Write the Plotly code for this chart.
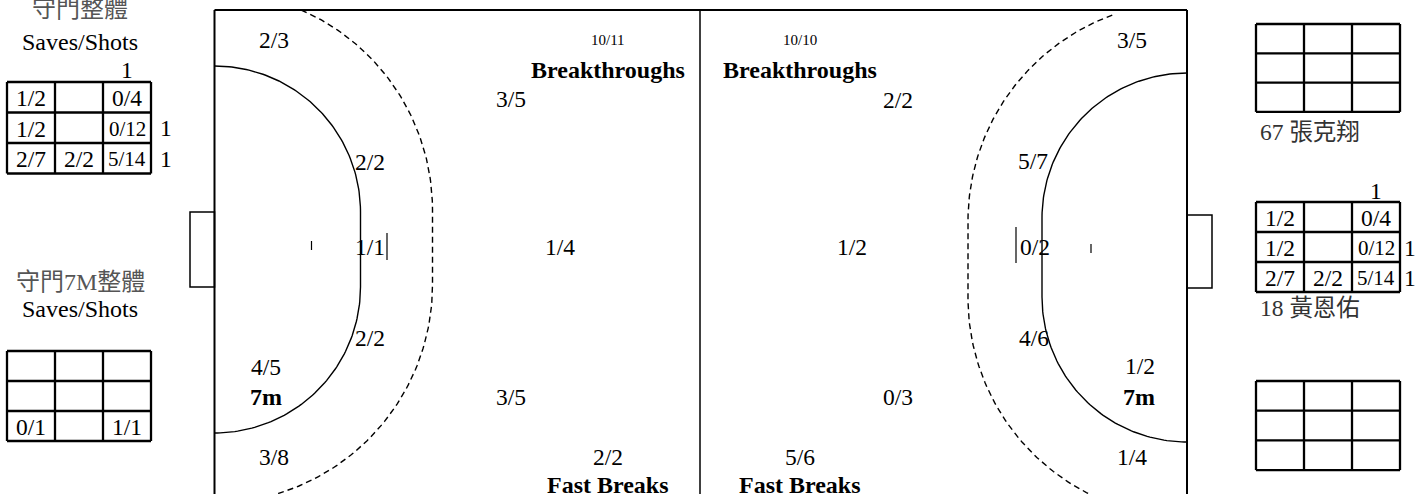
import numpy as np
import plotly.graph_objects as go

# ---------------- data ----------------
gk_titles = ["守門整體", "Saves/Shots", "守門7M整體", "Saves/Shots"]
gk_overall = [["1/2", "", "0/4"], ["1/2", "", "0/12"], ["2/7", "2/2", "5/14"]]
gk_overall_marks = ["1", "1", "1"]          # above col 3, right of row 2, right of row 3
gk_7m = [["", "", ""], ["", "", ""], ["0/1", "", "1/1"]]

player_names = ["67 張克翔", "18 黃恩佑"]
player_67 = [["", "", ""], ["", "", ""], ["", "", ""]]
player_18 = [["1/2", "", "0/4"], ["1/2", "", "0/12"], ["2/7", "2/2", "5/14"]]
player_18_marks = ["1", "1", "1"]
player_other = [["", "", ""], ["", "", ""], ["", "", ""]]

left_zone_labels = ["2/3", "3/5", "2/2", "1/1", "1/4", "2/2", "4/5", "3/5", "3/8", "2/2"]
right_zone_labels = ["3/5", "2/2", "5/7", "1/2", "0/2", "4/6", "1/2", "0/3", "5/6", "1/4"]
breakthrough_counts = ["10/11", "10/10"]
section_labels = ["Breakthroughs", "7m", "Fast Breaks"]

# ---------------- positions / styles ----------------
left_zone_x = [274, 511, 370, 370, 560, 370, 266, 511, 274, 608]
left_zone_y = [40, 99, 162, 247, 247, 338, 367, 397, 457, 457]
right_zone_x = [1132, 898, 1033, 852, 1035, 1034, 1140, 898, 800, 1132]
right_zone_y = [40, 100, 161, 247, 247, 338, 366, 397, 457, 457]

SERIF = "Liberation Serif, Times New Roman, Noto Sans CJK TC, serif"
FS = 23.5
FB = 24
fig = go.Figure()
shapes = []
annotations = []


def txt(x, y, s, size=FS, bold=False, xanchor="center", color="black"):
    if s == "":
        return
    annotations.append(dict(
        x=x, y=y, xref="x", yref="y", text=("<b>%s</b>" % s) if bold else s,
        showarrow=False, xanchor=xanchor, yanchor="middle",
        font=dict(family=SERIF, size=size, color=color)))


def line(x0, y0, x1, y1, w=2, dash=None):
    d = dict(type="line", x0=x0, y0=y0, x1=x1, y1=y1, xref="x", yref="y",
             line=dict(color="black", width=w))
    if dash:
        d["line"]["dash"] = dash
    shapes.append(d)


def rect(x0, y0, x1, y1, w=1.5):
    shapes.append(dict(type="rect", x0=x0, y0=y0, x1=x1, y1=y1, xref="x", yref="y",
                       line=dict(color="black", width=w)))


def grid(x0, y0, cw, ch, cells, w=2.3):
    for i in range(4):
        line(x0 + i * cw, y0, x0 + i * cw, y0 + 3 * ch, w)
        line(x0, y0 + i * ch, x0 + 3 * cw, y0 + i * ch, w)
    for r in range(3):
        for c in range(3):
            s = cells[r][c]
            size = FS - 2.5 if len(s) > 3 else FS
            txt(x0 + (c + 0.5) * cw, y0 + (r + 0.5) * ch + 1, s, size=size)


def d_curve(x0, c1, c2, r, side, ytop=10, tstart=None):
    s = 1 if side == "left" else -1
    t0 = np.arcsin(max(-1.0, (ytop - c1) / r)) if tstart is None else tstart
    t = np.linspace(t0, 0, 80)
    xs = list(x0 + s * r * np.cos(t))
    ys = list(c1 + r * np.sin(t))
    t = np.linspace(0, np.pi / 2, 80)
    xs += list(x0 + s * r * np.cos(t))
    ys += list(c2 + r * np.sin(t))
    return xs, ys


# ---------------- court ----------------
L, R, MID, TOP = 214.5, 1187, 700, 10
line(L, TOP, R, TOP, 2)
line(L, TOP, L, 520, 2)
line(R, TOP, R, 520, 2)
line(MID, TOP, MID, 520, 1.5)
rect(190, 212, L, 287, 1.5)
rect(R, 215, 1212, 288, 1.5)

for (x0, c1, c2, r, side, dash, ts) in [
        (L, 212, 287, 146, "left", None, None),
        (L, 210, 285, 218, "left", "6px,4px", None),
        (R, 218, 297, 145, "right", None, None),
        (R, 221, 298, 219, "right", "6px,4px", np.arcsin((13 - 221) / 219) + 0.03)]:
    xs, ys = d_curve(x0, c1, c2, r, side, tstart=ts)
    fig.add_trace(go.Scatter(x=xs, y=ys, mode="lines", hoverinfo="skip",
                             line=dict(color="black", width=1.4, dash=dash or "solid")))

line(311.5, 241, 311.5, 250, 1.2)
line(387, 233, 387, 260, 1.2)
line(1091, 244, 1091, 253, 1.2)
line(1016, 227, 1016, 263, 1.2)

for s, x, y in zip(left_zone_labels, left_zone_x, left_zone_y):
    txt(x, y, s)
for s, x, y in zip(right_zone_labels, right_zone_x, right_zone_y):
    txt(x, y, s)

txt(608, 40, breakthrough_counts[0], size=15)
txt(800, 40, breakthrough_counts[1], size=15)
txt(608, 70, section_labels[0], size=FB, bold=True)
txt(800, 70, section_labels[0], size=FB, bold=True)
txt(266, 397, section_labels[1], size=FB, bold=True)
txt(1139, 397, section_labels[1], size=FB, bold=True)
txt(608, 485, section_labels[2], size=FB, bold=True)
txt(800, 485, section_labels[2], size=FB, bold=True)

# ---------------- goalkeeper panels ----------------
txt(80, 9, gk_titles[0], size=FB, color="#555")
txt(80, 42, gk_titles[1], size=FB)
grid(7, 82, 48, 30.5, gk_overall)
txt(127, 70, gk_overall_marks[0])
txt(166, 128, gk_overall_marks[1])
txt(166, 159, gk_overall_marks[2])

txt(80, 282, gk_titles[2], size=FB, color="#555")
txt(80, 309, gk_titles[3], size=FB)
grid(7, 351, 48, 30, gk_7m)

grid(1256, 24, 48, 29.3, player_67)
txt(1258, 132, player_names[0], xanchor="left", color="#333")
grid(1256, 202, 48, 30, player_18)
txt(1376, 191, player_18_marks[0])
txt(1410, 248, player_18_marks[1])
txt(1410, 278, player_18_marks[2])
txt(1258, 308, player_names[1], xanchor="left", color="#333")
grid(1256, 381, 48, 29.7, player_other)

fig.update_layout(
    width=1418, height=494, margin=dict(l=0, r=0, t=0, b=0),
    paper_bgcolor="white", plot_bgcolor="white", showlegend=False,
    xaxis=dict(range=[0, 1418], visible=False, fixedrange=True),
    yaxis=dict(range=[494, 0], visible=False, fixedrange=True),
    shapes=shapes, annotations=annotations)

fig.write_html("out.html", config={"displayModeBar": False},
               post_script="document.body.style.margin='0';document.body.style.overflow='hidden';")
